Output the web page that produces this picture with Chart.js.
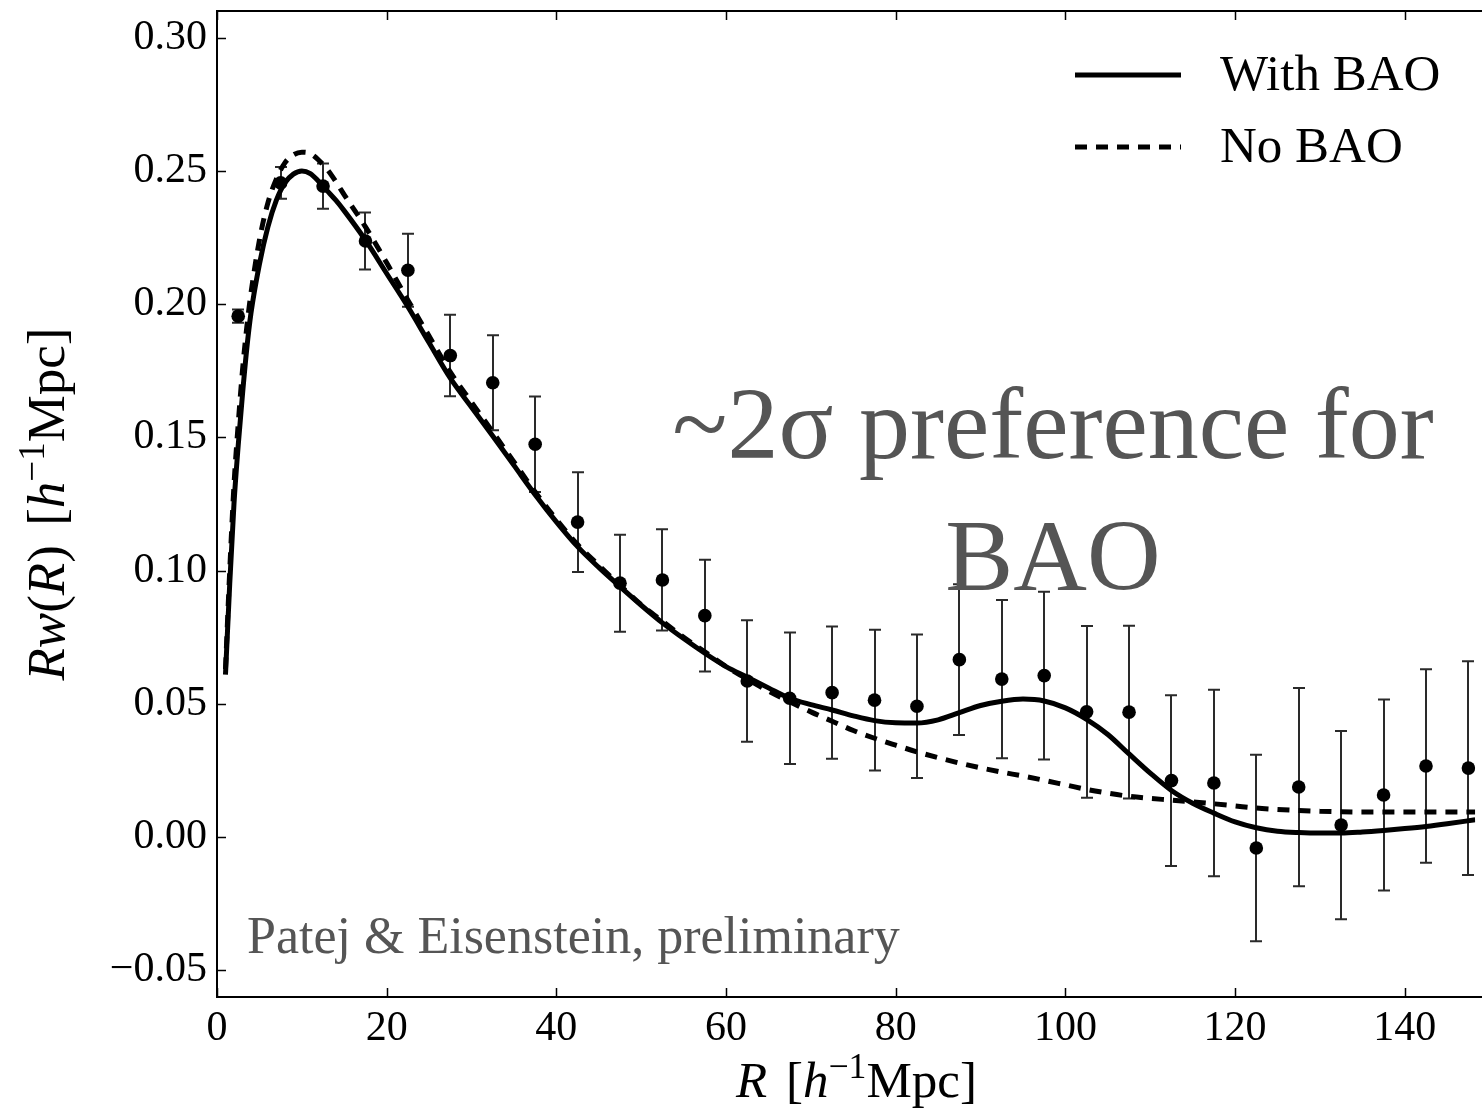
<!DOCTYPE html>
<html>
<head>
<meta charset="utf-8">
<script src="https://cdn.jsdelivr.net/npm/chart.js@4.4.1/dist/chart.umd.min.js"></script>
<style>
html,body{margin:0;padding:0;background:#fff;overflow:hidden;}
canvas{display:block;}
</style>
</head>
<body>
<canvas id="c" width="1482" height="1108"></canvas>
<script>
// ---- data ----
const binCenters = [2.5,7.5,12.5,17.5,22.5,27.5,32.5,37.5,42.5,47.5,52.5,57.5,62.5,67.5,72.5,77.5,82.5,87.5,92.5,97.5,102.5,107.5,112.5,117.5,122.5,127.5,132.5,137.5,142.5,147.5];
const measured = [0.1955,0.2455,0.2443,0.2237,0.2127,0.1807,0.1705,0.1474,0.1182,0.0953,0.0965,0.0831,0.0586,0.0521,0.0542,0.0514,0.0491,0.0666,0.0593,0.0606,0.0470,0.0469,0.0212,0.0203,-0.0041,0.0188,0.0045,0.0158,0.0267,0.0259];
const measuredErr = [0.0025,0.0060,0.0085,0.0107,0.0137,0.0153,0.0178,0.0179,0.0187,0.0182,0.0190,0.0210,0.0228,0.0247,0.0248,0.0264,0.0269,0.0283,0.0297,0.0315,0.0322,0.0324,0.0320,0.0350,0.0350,0.0372,0.0353,0.0358,0.0363,0.0401];

const modelR =  [1.0,1.5,2.0,2.5,3.0,3.5,4.0,5.0,6.0,7.0,8.0,9.0,10.0,11.0,12.0,13.0,14.0,15.0,17.5,20,22.5,25,27.5,30,32.5,35,37.5,40,42.5,45,47.5,50,52.5,55,57.5,60,62.5,65,67.5,70,72.5,75,77.5,80,82.5,85,87.5,90,92.5,95,97.5,100,102.5,105,107.5,110,112.5,115,117.5,120,122.5,125,127.5,130,132.5,135,137.5,140,142.5,145,148.3];
const withBAO = [0.061,0.095,0.125,0.147,0.166,0.183,0.1965,0.215,0.229,0.239,0.2455,0.2488,0.250,0.2490,0.2460,0.2425,0.2390,0.2350,0.2240,0.2115,0.1990,0.1855,0.1722,0.1613,0.1505,0.1395,0.1285,0.1183,0.1090,0.1012,0.0940,0.0870,0.0804,0.0745,0.0690,0.0640,0.0600,0.0560,0.0521,0.0497,0.0477,0.0455,0.0437,0.0429,0.0428,0.0440,0.0467,0.0494,0.0510,0.0518,0.0511,0.0485,0.0442,0.0385,0.0312,0.0240,0.0175,0.0127,0.0090,0.0057,0.0035,0.0022,0.0017,0.0015,0.0015,0.0019,0.0025,0.0032,0.0040,0.0050,0.0065];
const noBAO = [0.063,0.100,0.132,0.155,0.175,0.191,0.204,0.224,0.238,0.247,0.2530,0.2560,0.2570,0.2565,0.2540,0.2505,0.2460,0.2410,0.2290,0.2155,0.2015,0.1880,0.1745,0.1632,0.1520,0.1408,0.1295,0.1192,0.1098,0.1020,0.0945,0.0872,0.0810,0.0750,0.0695,0.0640,0.0593,0.0548,0.0508,0.0470,0.0435,0.0400,0.0371,0.0345,0.0320,0.0298,0.0278,0.0260,0.0244,0.0229,0.0213,0.0196,0.0179,0.0165,0.0153,0.0145,0.0139,0.0132,0.0125,0.0117,0.0109,0.0104,0.0100,0.0097,0.0095,0.0094,0.0094,0.0094,0.0094,0.0094,0.0094];

const xTickValues = [0,20,40,60,80,100,120,140];
const xTickLabels = ['0','20','40','60','80','100','120','140'];
const yTickValues = [-0.05,0,0.05,0.10,0.15,0.20,0.25,0.30];
const yTickLabels = ['\u22120.05','0.00','0.05','0.10','0.15','0.20','0.25','0.30'];
const seriesLabels = ['With BAO','No BAO'];
const noteMain = ['~2\u03c3 preference for','BAO'];
const noteCredit = 'Patej & Eisenstein, preliminary';

// ---- helpers ----
const SERIF = '"Liberation Serif", "DejaVu Serif", serif';
function drawRich(ctx, parts, size) {
  let w = 0;
  const m = parts.map(p => {
    const fs = p.sup ? size * 0.7 : size;
    ctx.font = (p.i ? 'italic ' : '') + fs + 'px ' + SERIF;
    const pw = ctx.measureText(p.t).width + (p.gap || 0);
    w += pw;
    return {p, fs, pw};
  });
  let x = -w / 2;
  m.forEach(o => {
    ctx.font = (o.p.i ? 'italic ' : '') + o.fs + 'px ' + SERIF;
    ctx.fillText(o.p.t, x, o.p.sup ? -size * 0.38 : 0);
    x += o.pw;
  });
}

const errorBarPlugin = {
  id: 'errbars',
  beforeDatasetsDraw(chart) {
    const {ctx, scales:{x, y}} = chart;
    ctx.save();
    ctx.strokeStyle = '#2a2a2a';
    ctx.lineWidth = 2;
    binCenters.forEach((r, i) => {
      const px = Math.round(x.getPixelForValue(r));
      const top = y.getPixelForValue(measured[i] + measuredErr[i]);
      const bot = y.getPixelForValue(measured[i] - measuredErr[i]);
      ctx.beginPath();
      ctx.moveTo(px, top); ctx.lineTo(px, bot);
      ctx.moveTo(px - 6, top); ctx.lineTo(px + 6, top);
      ctx.moveTo(px - 6, bot); ctx.lineTo(px + 6, bot);
      ctx.stroke();
    });
    ctx.restore();
  }
};

const decorPlugin = {
  id: 'decor',
  afterDraw(chart) {
    const {ctx, chartArea:a, scales:{x, y}} = chart;
    ctx.save();
    // frame
    ctx.strokeStyle = '#000';
    ctx.lineWidth = 2;
    ctx.beginPath();
    ctx.moveTo(a.right + 20, a.top); ctx.lineTo(a.left, a.top);
    ctx.lineTo(a.left, a.bottom); ctx.lineTo(a.right + 20, a.bottom);
    ctx.stroke();
    // inward ticks
    ctx.lineWidth = 1.5;
    ctx.beginPath();
    yTickValues.forEach(v => {
      const py = Math.round(y.getPixelForValue(v)) + 0.5;
      ctx.moveTo(a.left, py); ctx.lineTo(a.left + 9, py);
    });
    xTickValues.forEach(v => {
      const px = Math.round(x.getPixelForValue(v)) + 0.5;
      ctx.moveTo(px, a.bottom); ctx.lineTo(px, a.bottom - 9);
      ctx.moveTo(px, a.top); ctx.lineTo(px, a.top + 9);
    });
    ctx.stroke();

    // legend
    const dsLines = chart.data.datasets.filter(d => d.type === 'line');
    dsLines.forEach((d, i) => {
      const yy = 75 + i * 72;
      ctx.save();
      ctx.strokeStyle = d.borderColor;
      ctx.lineWidth = d.borderWidth;
      ctx.setLineDash(d.borderDash || []);
      ctx.beginPath();
      ctx.moveTo(1075, yy); ctx.lineTo(1181, yy);
      ctx.stroke();
      ctx.restore();
      ctx.fillStyle = '#000';
      ctx.font = '51px ' + SERIF;
      ctx.textBaseline = 'middle';
      ctx.textAlign = 'left';
      ctx.fillText(d.label, 1220, yy + 2);
    });

    // annotations
    ctx.fillStyle = '#555555';
    ctx.textAlign = 'center';
    ctx.textBaseline = 'alphabetic';
    ctx.font = '102px ' + SERIF;
    ctx.fillText(noteMain[0], 1053, 458);
    ctx.fillText(noteMain[1], 1053, 590);
    ctx.textAlign = 'left';
    ctx.font = '52px ' + SERIF;
    ctx.fillText(noteCredit, 247, 953);

    // axis titles
    ctx.fillStyle = '#000';
    ctx.textAlign = 'left';
    ctx.save();
    ctx.translate((a.left + 1496) / 2, 1097);
    drawRich(ctx, [{t:'R', i:true, gap:6},{t:' ['},{t:'h', i:true},{t:'\u22121', sup:true},{t:'Mpc]'}], 51);
    ctx.restore();
    ctx.save();
    ctx.translate(64, (a.top + a.bottom) / 2);
    ctx.rotate(-Math.PI / 2);
    drawRich(ctx, [{t:'Rw', i:true},{t:'('},{t:'R', i:true},{t:')', gap:6},{t:' ['},{t:'h', i:true},{t:'\u22121', sup:true},{t:'Mpc]'}], 53);
    ctx.restore();
    ctx.restore();
  }
};

const tickFont = {family: SERIF, size: 42};
function noPad(s) { s.paddingTop = 0; s.paddingBottom = 0; s.paddingLeft = 0; s.paddingRight = 0; }

new Chart(document.getElementById('c'), {
  data: {
    datasets: [
      {
        type: 'line', label: seriesLabels[0],
        data: modelR.map((r, i) => ({x: r, y: withBAO[i]})),
        borderColor: '#000', borderWidth: 5, pointRadius: 0,
        cubicInterpolationMode: 'monotone', fill: false, order: 2
      },
      {
        type: 'line', label: seriesLabels[1],
        data: modelR.map((r, i) => ({x: r, y: noBAO[i]})),
        borderColor: '#000', borderWidth: 5, borderDash: [12, 9], borderCapStyle: 'butt',
        pointRadius: 0, cubicInterpolationMode: 'monotone', fill: false, order: 3
      },
      {
        type: 'scatter', label: 'data',
        data: binCenters.map((r, i) => ({x: r, y: measured[i]})),
        backgroundColor: '#000', borderWidth: 0, pointRadius: 6.8, order: 1
      }
    ]
  },
  options: {
    responsive: false,
    animation: false,
    devicePixelRatio: 1,
    layout: {padding: {top: 11, right: 0, left: 0, bottom: 0}},
    plugins: {legend: {display: false}, tooltip: {enabled: false}},
    scales: {
      x: {
        type: 'linear', min: 0, max: 148.3,
        grid: {display: false, drawTicks: false},
        border: {display: false},
        afterBuildTicks: s => { s.ticks = xTickValues.map(v => ({value: v})); },
        afterFit: s => { s.height = 111; noPad(s); },
        ticks: {
          autoSkip: false, maxRotation: 0, padding: 7, color: '#000', font: tickFont,
          callback: (v) => xTickLabels[xTickValues.indexOf(v)]
        }
      },
      y: {
        type: 'linear', min: -0.06, max: 0.31,
        grid: {display: false, drawTicks: false},
        border: {display: false},
        afterBuildTicks: s => { s.ticks = yTickValues.map(v => ({value: v})); },
        afterFit: s => { s.width = 217; noPad(s); },
        ticks: {
          autoSkip: false, padding: 10, color: '#000', font: tickFont,
          callback: (v) => {
            const k = yTickValues.findIndex(t => Math.abs(t - v) < 1e-9);
            return yTickLabels[k];
          }
        }
      }
    }
  },
  plugins: [errorBarPlugin, decorPlugin]
});
</script>
</body>
</html>
